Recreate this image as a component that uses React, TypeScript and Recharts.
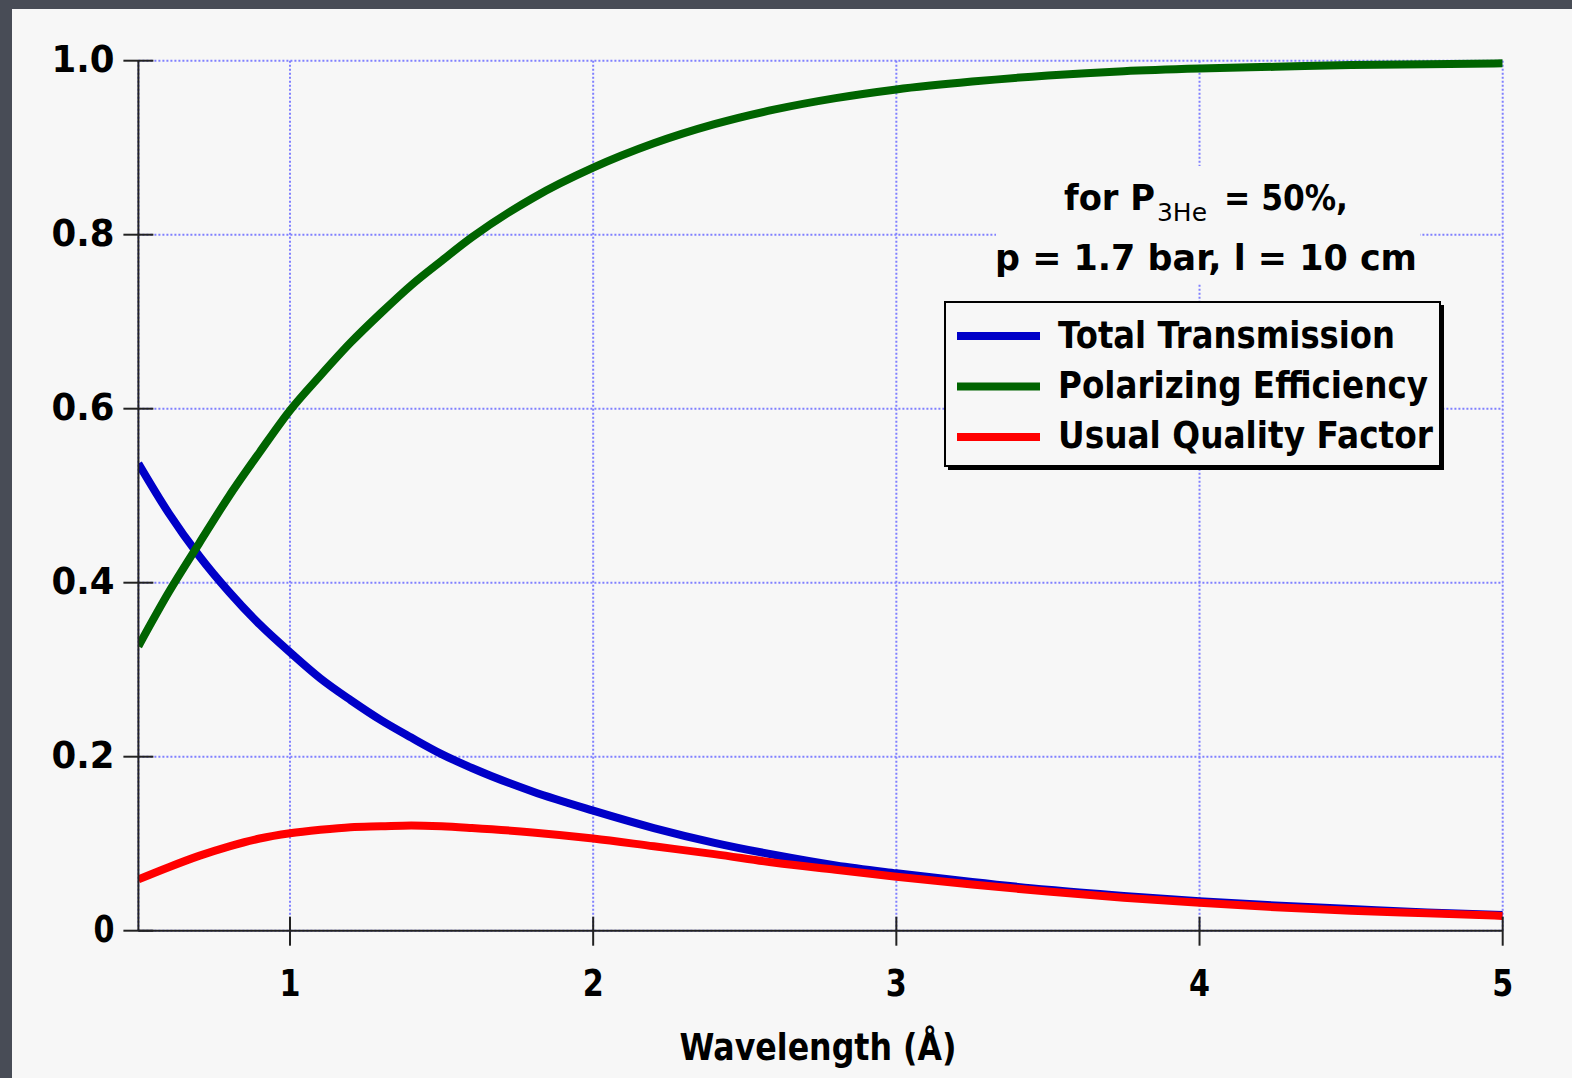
import React from 'react';
import { LineChart, Line, XAxis, YAxis, CartesianGrid } from 'recharts';

const wavelength = [0.5, 0.6, 0.7, 0.8, 0.9, 1.0, 1.1, 1.2, 1.3, 1.4, 1.5, 1.6, 1.8, 2.0, 2.2, 2.4, 2.6, 2.8, 3.0, 3.25, 3.5, 3.75, 4.0, 4.25, 4.5, 4.75, 5.0];
const totalTransmission = [0.537, 0.48, 0.431, 0.389, 0.352, 0.32, 0.29, 0.265, 0.242, 0.222, 0.203, 0.187, 0.16, 0.138, 0.118, 0.101, 0.087, 0.075, 0.066, 0.056, 0.047, 0.04, 0.034, 0.029, 0.025, 0.021, 0.018];
const polarizingEfficiency = [0.327, 0.389, 0.445, 0.5, 0.55, 0.598, 0.638, 0.676, 0.71, 0.742, 0.77, 0.797, 0.842, 0.877, 0.905, 0.927, 0.944, 0.957, 0.967, 0.976, 0.983, 0.988, 0.991, 0.993, 0.995, 0.996, 0.997];
const usualQualityFactor = [0.059, 0.073, 0.086, 0.097, 0.106, 0.112, 0.116, 0.119, 0.12, 0.121, 0.12, 0.118, 0.113, 0.106, 0.097, 0.088, 0.078, 0.07, 0.062, 0.053, 0.045, 0.038, 0.032, 0.027, 0.023, 0.02, 0.017];

const xTicks = [1, 2, 3, 4, 5];
const yTicks = [0, 0.2, 0.4, 0.6, 0.8, 1.0];
const yTickLabels = ['0', '0.2', '0.4', '0.6', '0.8', '1.0'];
const seriesNames = ['Total Transmission', 'Polarizing Efficiency', 'Usual Quality Factor'];
const seriesColors = ['#0000c8', '#006400', '#ff0000'];
const xAxisLabel = 'Wavelength (Å)';
const noteLine2 = 'p = 1.7 bar, l = 10 cm';

const data = wavelength.map((w, i) => ({
  w,
  t: totalTransmission[i],
  p: polarizingEfficiency[i],
  q: usualQualityFactor[i],
}));

const FONT = '"DejaVu Sans", Verdana, sans-serif';

const XTick = (props: any) => {
  const { x, y, payload } = props;
  return (
    <g>
      <line x1={x} x2={x} y1={y - 14} y2={y + 15} stroke="#222" strokeWidth={2} />
      <text x={x} y={y + 52} textAnchor="middle" dominantBaseline="central" fontFamily={FONT} fontWeight="bold" fontSize={38} fill="#000" textLength={21} lengthAdjust="spacingAndGlyphs">
        {payload.value}
      </text>
    </g>
  );
};

const YTick = (props: any) => {
  const { x, y, payload } = props;
  const idx = yTicks.indexOf(payload.value);
  const label = idx >= 0 ? yTickLabels[idx] : String(payload.value);
  return (
    <g>
      <line x1={x - 15} x2={x + 15} y1={y} y2={y} stroke="#222" strokeWidth={2} />
      <text x={x - 24} y={y - 2} textAnchor="end" dominantBaseline="central" fontFamily={FONT} fontWeight="bold" fontSize={38} fill="#000" textLength={label.length === 1 ? 21 : 63} lengthAdjust="spacingAndGlyphs">
        {label}
      </text>
    </g>
  );
};

export default function App() {
  const bg = '#f7f7f7';
  return (
    <div style={{ position: 'absolute', left: 0, top: 0, width: 1572, height: 1078, background: '#484c56', overflow: 'hidden' }}>
      <div style={{ position: 'absolute', left: 12, top: 9, width: 1560, height: 1069, background: bg }} />
      <div style={{ position: 'absolute', left: 0, top: 0 }}>
        <LineChart width={1572} height={1078} data={data} margin={{ top: 60.7, right: 69.3, bottom: 87.3, left: 0 }}>
          <CartesianGrid stroke="#8080ff" strokeWidth={2} strokeDasharray="2 2" />
          <XAxis
            dataKey="w"
            type="number"
            domain={[0.5, 5]}
            ticks={xTicks}
            allowDataOverflow
            height={60}
            tickSize={0}
            tickMargin={0}
            tickLine={false}
            axisLine={{ stroke: '#222', strokeWidth: 2 }}
            tick={<XTick />}
            interval={0}
          />
          <YAxis
            type="number"
            domain={[0, 1]}
            ticks={yTicks}
            width={138.4}
            tickSize={0}
            tickMargin={0}
            tickLine={false}
            axisLine={{ stroke: '#222', strokeWidth: 2 }}
            tick={<YTick />}
            interval={0}
          />
          <Line type="monotone" dataKey="t" stroke={seriesColors[0]} strokeWidth={8} dot={false} isAnimationActive={false} />
          <Line type="monotone" dataKey="p" stroke={seriesColors[1]} strokeWidth={8} dot={false} isAnimationActive={false} />
          <Line type="monotone" dataKey="q" stroke={seriesColors[2]} strokeWidth={8} dot={false} isAnimationActive={false} />
        </LineChart>
      </div>
      <svg width={1572} height={1078} style={{ position: 'absolute', left: 0, top: 0, pointerEvents: 'none' }}>
        <text x={818} y={1060} textAnchor="middle" fontFamily={FONT} fontWeight="bold" fontSize={38} fill="#000" textLength={277} lengthAdjust="spacingAndGlyphs">
          {xAxisLabel}
        </text>
        <rect x={1050} y={166} width={310} height={62} fill={bg} />
        <rect x={996} y={228} width={424} height={55} fill={bg} />
        <text x={1064} y={210} fontFamily={FONT} fontWeight="bold" fontSize={36} fill="#000" textLength={91} lengthAdjust="spacingAndGlyphs">for P</text>
        <text x={1157} y={221} fontFamily={FONT} fontSize={24} fill="#000" textLength={50} lengthAdjust="spacingAndGlyphs">3He</text>
        <text x={1224} y={210} fontFamily={FONT} fontWeight="bold" fontSize={36} fill="#000" textLength={124} lengthAdjust="spacingAndGlyphs">= 50%,</text>
        <text x={995} y={270} fontFamily={FONT} fontWeight="bold" fontSize={36} fill="#000" textLength={422} lengthAdjust="spacingAndGlyphs">{noteLine2}</text>
        <rect x={948} y={305} width={496} height={165} fill="#000" />
        <rect x={945} y={302} width={495} height={164} fill={bg} stroke="#000" strokeWidth={2} />
        {seriesNames.map((name, i) => (
          <g key={name}>
            <line x1={957} x2={1040} y1={336 + i * 50.5} y2={336 + i * 50.5} stroke={seriesColors[i]} strokeWidth={8} />
            <text x={1058} y={348 + i * 50} fontFamily={FONT} fontWeight="bold" fontSize={38} fill="#000" textLength={[337, 370, 375][i]} lengthAdjust="spacingAndGlyphs">
              {name}
            </text>
          </g>
        ))}
      </svg>
    </div>
  );
}
